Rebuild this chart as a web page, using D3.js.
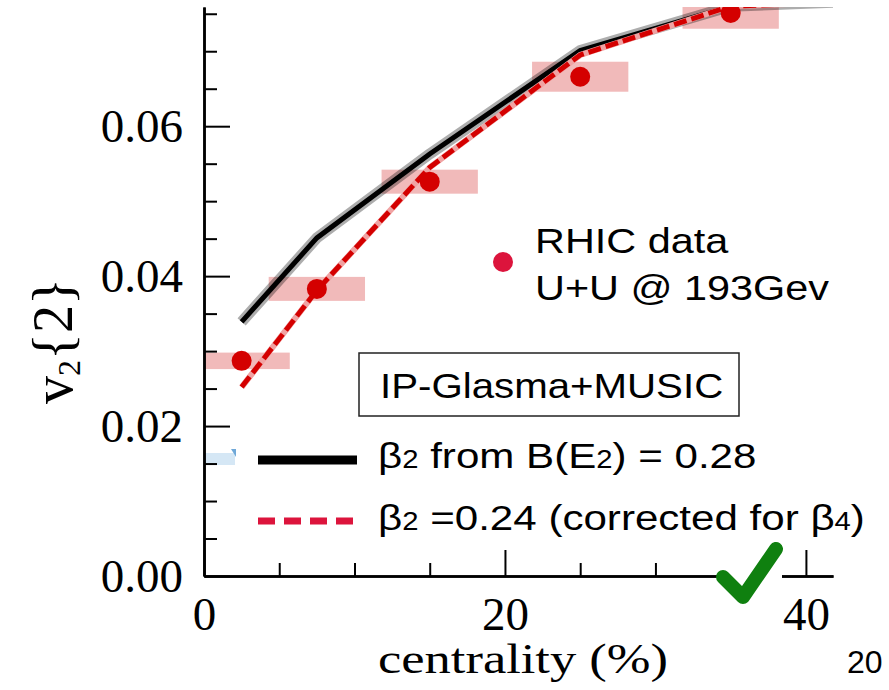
<!DOCTYPE html>
<html>
<head>
<meta charset="utf-8">
<script src="https://cdn.jsdelivr.net/npm/d3@7"></script>
<style>
  body { margin: 0; background: #fff; }
  svg { display: block; }
  .serif { font-family: "Liberation Serif", "DejaVu Serif", serif; }
  .sans { font-family: "Liberation Sans", Arial, sans-serif; }
</style>
</head>
<body>
<div id="chart"></div>
<script>
// RHIC U+U @ 193 GeV, v2{2} per centrality bin
const centrality = [2.5, 7.5, 15, 25, 35, 45];
const binHalfWidth = [3.2, 3.2, 3.2, 3.2, 3.2, 3.2];
const v2Data = [0.0287, 0.0383, 0.0526, 0.0666, 0.0751, 0.0775];
const v2Sys = [0.0011, 0.0016, 0.0016, 0.0020, 0.0021, 0.0028];

// IP-Glasma+MUSIC curves
const modelCent = [2.5, 7.5, 15, 25, 35, 45];
const v2BE2 = [0.0339, 0.0451, 0.0563, 0.0701, 0.0760, 0.0768];
const v2Corr = [0.0252, 0.0381, 0.0545, 0.0695, 0.0760, 0.0768];

// ticks
const xMajor = [0, 20, 40];
const xMinor = [5, 10, 15, 25, 30, 35];
const yMajor = [0, 0.02, 0.04, 0.06];
const yMinor = [0.005, 0.01, 0.015, 0.025, 0.03, 0.035, 0.045, 0.05, 0.055, 0.065, 0.07, 0.075];

const dataLabel = ["RHIC data", "U+U @ 193Gev"];
const modelTitle = "IP-Glasma+MUSIC";

const width = 889, height = 690;

const svg = d3.select("#chart").append("svg")
  .attr("width", width)
  .attr("height", height);

const x = d3.scaleLinear().domain([0, 41.8]).range([204, 833]);
const y = d3.scaleLinear().domain([0, 0.0759]).range([576, 7]);

svg.append("clipPath").attr("id", "plot-clip")
  .append("rect")
  .attr("x", x(0)).attr("y", y(0.0759))
  .attr("width", x(41.8) - x(0)).attr("height", y(0) - y(0.0759));

// leftover light blue patch near the axis
svg.append("rect").attr("x", 205).attr("y", 453).attr("width", 30).attr("height", 12)
  .attr("fill", "#d5e7f5");
svg.append("path").attr("d", "M231,449 L236,449 L236,457 Z").attr("fill", "#6fa8d8");

const plot = svg.append("g").attr("clip-path", "url(#plot-clip)");

// systematic boxes
plot.selectAll("rect.sys")
  .data(centrality)
  .join("rect")
  .attr("class", "sys")
  .attr("x", (d, i) => x(d - binHalfWidth[i]))
  .attr("width", (d, i) => x(d + binHalfWidth[i]) - x(d - binHalfWidth[i]))
  .attr("y", (d, i) => y(v2Data[i] + v2Sys[i]))
  .attr("height", (d, i) => y(v2Data[i] - v2Sys[i]) - y(v2Data[i] + v2Sys[i]))
  .attr("fill", "#e06565")
  .attr("opacity", 0.45);

const line = d3.line()
  .x(d => x(d[0]))
  .y(d => y(d[1]));

const blackPts = modelCent.map((c, i) => [c, v2BE2[i]]);
const redPts = modelCent.map((c, i) => [c, v2Corr[i]]);

plot.append("path").datum(blackPts)
  .attr("d", line).attr("fill", "none")
  .attr("stroke", "#000").attr("stroke-opacity", 0.32)
  .attr("stroke-width", 11).attr("stroke-linejoin", "round");
plot.append("path").datum(blackPts)
  .attr("d", line).attr("fill", "none")
  .attr("stroke", "#000").attr("stroke-width", 5);

plot.append("path").datum(redPts)
  .attr("d", line).attr("fill", "none")
  .attr("stroke", "#f0a3a3").attr("stroke-width", 6);
plot.append("path").datum(redPts)
  .attr("d", line).attr("fill", "none")
  .attr("stroke", "#d40000").attr("stroke-width", 5)
  .attr("stroke-dasharray", "13 5");

plot.selectAll("circle.pt")
  .data(centrality)
  .join("circle")
  .attr("class", "pt")
  .attr("cx", d => x(d))
  .attr("cy", (d, i) => y(v2Data[i]))
  .attr("r", 10)
  .attr("fill", "#d40000");

// axes
const yAxisMajor = d3.axisLeft(y).tickValues(yMajor).tickSizeInner(-26).tickSizeOuter(0)
  .tickPadding(21).tickFormat(d3.format(".2f"));
const yAxisMinor = d3.axisLeft(y).tickValues(yMinor).tickSizeInner(-13).tickSizeOuter(0)
  .tickFormat("");
const xAxisMajor = d3.axisBottom(x).tickValues(xMajor).tickSizeInner(-26).tickSizeOuter(0)
  .tickPadding(21).tickFormat(d3.format("d"));
const xAxisMinor = d3.axisBottom(x).tickValues(xMinor).tickSizeInner(-13).tickSizeOuter(0)
  .tickFormat("");

function styleAxis(g) {
  g.select(".domain").attr("stroke", "#000").attr("stroke-width", 2.5);
  g.selectAll(".tick line").attr("stroke", "#000").attr("stroke-width", 2);
  g.selectAll(".tick text")
    .attr("class", "serif")
    .attr("fill", "#000")
    .style("font-size", "47px");
}

svg.append("g").attr("transform", `translate(${x(0)},0)`).call(yAxisMinor).call(styleAxis);
svg.append("g").attr("transform", `translate(${x(0)},0)`).call(yAxisMajor).call(styleAxis);
svg.append("g").attr("transform", `translate(0,${y(0)})`).call(xAxisMinor).call(styleAxis);
svg.append("g").attr("transform", `translate(0,${y(0)})`).call(xAxisMajor).call(styleAxis);
svg.selectAll("g.tick text").attr("font-size", null);

// axis titles
svg.append("text")
  .attr("class", "serif")
  .attr("x", 523).attr("y", 673)
  .attr("text-anchor", "middle")
  .attr("textLength", 290)
  .attr("lengthAdjust", "spacingAndGlyphs")
  .style("font-size", "43px")
  .text("centrality (%)");

const yTitle = svg.append("text")
  .attr("class", "serif")
  .attr("transform", "translate(72,341) rotate(-90)")
  .attr("text-anchor", "middle")
  .style("font-size", "56px");
yTitle.append("tspan").text("v");
yTitle.append("tspan").attr("dy", 8).style("font-size", "32px").text("2");
yTitle.append("tspan").attr("dy", -8).text("{2}");

// data legend
svg.append("circle").attr("cx", 503).attr("cy", 262).attr("r", 10).attr("fill", "#dc143c");
svg.selectAll("text.dlab")
  .data(dataLabel)
  .join("text")
  .attr("class", "dlab sans")
  .attr("transform", (d, i) => `translate(535,${253 + i * 47}) scale(1.15,1)`)
  .style("font-size", "36px")
  .attr("fill", "#000")
  .text(d => d);

// model legend box
svg.append("rect")
  .attr("x", 359).attr("y", 353).attr("width", 380).attr("height", 63)
  .attr("fill", "#fff").attr("stroke", "#222").attr("stroke-width", 1.5);
svg.append("text")
  .attr("class", "sans")
  .attr("transform", "translate(380,398) scale(1.15,1)")
  .style("font-size", "35px")
  .text(modelTitle);

svg.append("line").attr("x1", 258).attr("x2", 357).attr("y1", 460).attr("y2", 460)
  .attr("stroke", "#000").attr("stroke-width", 9);
svg.append("line").attr("x1", 258).attr("x2", 354).attr("y1", 521).attr("y2", 521)
  .attr("stroke", "#dc143c").attr("stroke-width", 7).attr("stroke-dasharray", "17 9");

const t1 = svg.append("text").attr("class", "sans")
  .attr("transform", "translate(378,468) scale(1.17,1)")
  .style("font-size", "36px");
t1.append("tspan").text("β");
t1.append("tspan").style("font-size", "25px").text("2");
t1.append("tspan").text(" from B(E");
t1.append("tspan").style("font-size", "25px").text("2");
t1.append("tspan").text(") = 0.28");

const t2 = svg.append("text").attr("class", "sans")
  .attr("transform", "translate(378,530) scale(1.17,1)")
  .style("font-size", "36px");
t2.append("tspan").text("β");
t2.append("tspan").style("font-size", "25px").text("2");
t2.append("tspan").text(" =0.24 (corrected for β");
t2.append("tspan").style("font-size", "25px").text("4");
t2.append("tspan").text(")");

// check mark over the axis
svg.append("rect").attr("x", 717).attr("y", 540).attr("width", 65).attr("height", 66).attr("fill", "#fff");
svg.append("path")
  .attr("d", "M723,577 L743,597 L776,549")
  .attr("fill", "none")
  .attr("stroke", "#0f800f")
  .attr("stroke-width", 14)
  .attr("stroke-linecap", "round")
  .attr("stroke-linejoin", "round");

// slide page number
svg.append("text").attr("class", "sans")
  .attr("x", 847).attr("y", 673)
  .style("font-size", "32px")
  .text("20");
</script>
</body>
</html>
